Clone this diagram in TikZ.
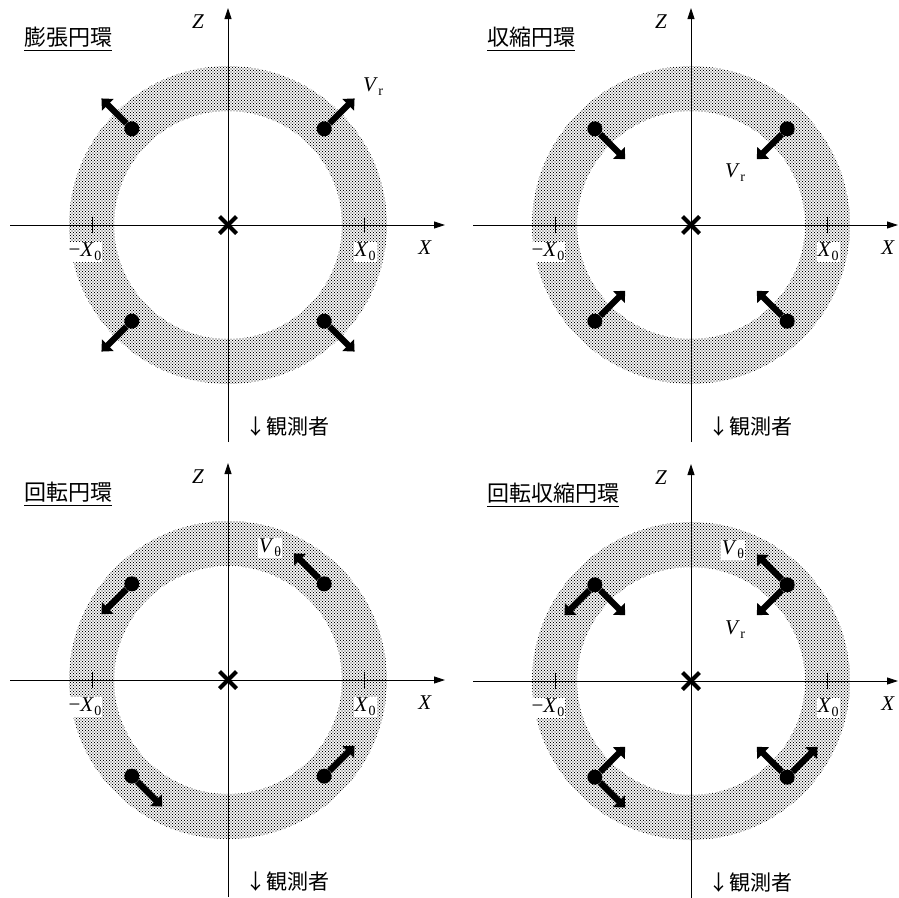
\documentclass[tikz,border=0pt]{standalone}
\usepackage{fontspec}
\setmainfont{Liberation Serif}
\newfontfamily\cjkfont{Noto Sans CJK JP}
\usetikzlibrary{arrows.meta,patterns,calc}
\pgfdeclarepatternformonly{ringdots}{\pgfqpoint{-1pt}{-1pt}}{\pgfqpoint{4pt}{4pt}}{\pgfqpoint{3pt}{3pt}}{%
  \pgfpathcircle{\pgfqpoint{0pt}{0pt}}{0.68pt}%
  \pgfpathcircle{\pgfqpoint{1.5pt}{1.5pt}}{0.68pt}%
  \pgfusepath{fill}}
\newcommand\sublbl[2]{\textit{#1}\kern0.5pt\raisebox{-4pt}{\fontsize{14}{14}\selectfont #2}}
\tikzset{
  axis/.style={line width=0.9pt,-{Triangle[width=7pt,length=11pt]}},
  ring/.style={pattern=ringdots, pattern color=black, even odd rule},
  particle/.style={circle, fill=black, minimum size=15pt, inner sep=0pt},
  vel/.style={line width=6.3pt, -{Triangle[width=16pt,length=9pt]}},
  tickm/.style={line width=0.8pt},
  crossm/.style={line width=4pt},
  lab/.style={font=\fontsize{21}{21}\selectfont, fill=white, inner sep=1pt},
  titlest/.style={font=\cjkfont\fontsize{22}{22}\selectfont, anchor=west, inner sep=0pt},
  obs/.style={font=\cjkfont\fontsize{21}{21}\selectfont, anchor=west, inner sep=0pt},
}
\newcommand\panelbase[3]{%
  \fill[ring] (0,0) circle[radius=159] (0,0) circle[radius=114];
  \draw[axis] (-218,0) -- (#3,0);
  \draw[axis] (0,-217) -- (0,217);
  \draw[tickm] (136,-8) -- (136,8) (-136,-8) -- (-136,8);
  \draw[crossm] (-8.5,-8.5) -- (8.5,8.5) (-8.5,8.5) -- (8.5,-8.5);
  \node[lab] (#1Z) at (-30,203) {\textit{Z}};
  \node[lab] (#1X) at (197,-23) {\textit{X}};
  \node[lab] (#1m) at (-143,-27) {−\sublbl{X}{0}};
  \node[lab] (#1p) at (137,-27) {\sublbl{X}{0}};
  \node[titlest] (#1t) at (-204,188) {#2};
  \draw[line width=1pt] ([yshift=-3pt]#1t.south west) -- ([yshift=-3pt]#1t.south east);
  \node[obs] (#1o) at (17,-202) {↓観測者};
  \foreach \a/\n in {45/a,135/b,225/c,315/d} \node[particle] (#1\n) at (\a:136) {};
}
\begin{document}
\begin{tikzpicture}[x=1pt,y=1pt]
\useasboundingbox (0,0) rectangle (899,-897);
% Panel 1: expanding ring
\begin{scope}[shift={(228,-225)}]
  \panelbase{A}{膨張円環}{217}
  \foreach \n/\a in {a/45,b/135,c/225,d/315}{
    \coordinate (A\n r) at (\a:179);
    \draw[vel] (A\n) -- (A\n r);
  }
  \node[lab,fill=none] (Avr) at (145,138) {\sublbl{V}{r}};
\end{scope}
% Panel 2: contracting ring
\begin{scope}[shift={(691,-225)}]
  \panelbase{B}{収縮円環}{207}
  \foreach \n/\a in {a/45,b/135,c/225,d/315}{
    \coordinate (B\n r) at (\a:93);
    \draw[vel] (B\n) -- (B\n r);
  }
  \node[lab,fill=none] (Bvr) at (44,52) {\sublbl{V}{r}};
\end{scope}
% Panel 3: rotating ring
\begin{scope}[shift={(228,-680)}]
  \panelbase{C}{回転円環}{217}
  \foreach \n/\a in {a/45,b/135,c/225,d/315}{
    \coordinate (C\n t) at ($(\a:136)+(\a+90:43)$);
    \draw[vel] (C\n) -- (C\n t);
  }
  \node[lab] (Cvt) at (42,132) {\sublbl{V}{θ}};
\end{scope}
% Panel 4: rotating contracting ring
\begin{scope}[shift={(691,-681)}]
  \panelbase{D}{回転収縮円環}{207}
  \foreach \n/\a in {a/45,b/135,c/225,d/315}{
    \coordinate (D\n r) at (\a:93);
    \coordinate (D\n t) at ($(\a:136)+(\a+90:43)$);
    \draw[vel] (D\n) -- (D\n r);
    \draw[vel] (D\n) -- (D\n t);
  }
  \node[lab] (Dvt) at (42,131) {\sublbl{V}{θ}};
  \node[lab,fill=none] (Dvr) at (44,51) {\sublbl{V}{r}};
\end{scope}
\end{tikzpicture}
\end{document}
